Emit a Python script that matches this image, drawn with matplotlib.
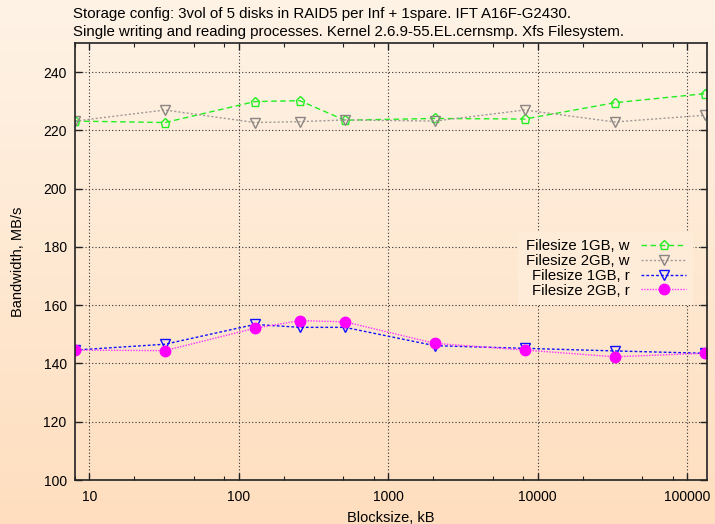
import numpy as np
import matplotlib
matplotlib.use("Agg")
from matplotlib import pyplot as plt
from matplotlib.ticker import LogLocator, NullFormatter, FixedLocator

plt.rcParams['font.family'] = ['Liberation Sans', 'DejaVu Sans']

# block sizes in kB
blocksize = [8, 32, 128, 256, 512, 2048, 8192, 32768, 131072]

w_1gb = [223.2, 222.7, 229.9, 230.2, 223.5, 224.1, 223.9, 229.5, 232.6]
w_2gb = [223.2, 227.0, 222.7, 223.0, 223.6, 223.2, 227.0, 222.9, 225.2]
r_1gb = [144.6, 146.6, 153.4, 152.4, 152.4, 146.1, 145.2, 144.3, 143.5]
r_2gb = [144.6, 144.4, 152.1, 154.7, 154.3, 146.9, 144.6, 142.3, 143.5]

labels = ["Filesize 1GB, w", "Filesize 2GB, w", "Filesize 1GB, r", "Filesize 2GB, r"]

title_lines = ["Storage config: 3vol of 5 disks in RAID5 per Inf + 1spare. IFT A16F-G2430.",
               "Single writing and reading processes. Kernel 2.6.9-55.EL.cernsmp. Xfs Filesystem."]

fig = plt.figure(figsize=(7.15, 5.24), dpi=100)

# gradient background over the whole figure
bg = fig.add_axes([0, 0, 1, 1], zorder=-10)
top_c = np.array([254, 243, 230]) / 255.0
bot_c = np.array([255, 222, 190]) / 255.0
t = np.linspace(0, 1, 256)[:, None]
grad = top_c[None, :] * (1 - t) + bot_c[None, :] * t
bg.imshow(grad[:, None, :], aspect='auto', extent=[0, 1, 0, 1])
bg.axis('off')

ax = fig.add_axes([75/715, 1 - 480/524, 632/715, 437/524])
ax.set_facecolor('none')

ax.plot(blocksize, w_1gb, color='#22ee22', ls=(0, (4, 2.5)), lw=1,
        marker='p', ms=6.5, mfc='none', mec='#22ee22', mew=1, label=labels[0])
ax.plot(blocksize, w_2gb, color='#a09a98', ls=(0, (1.5, 1.5)), lw=1,
        marker='v', ms=6.5, mfc='none', mec='#8a8482', mew=1, label=labels[1])
ax.plot(blocksize, r_1gb, color='#1010ff', ls=(0, (2, 1.5)), lw=1,
        marker='v', ms=6.5, mfc='none', mec='#1010ff', mew=1, label=labels[2])
ax.plot(blocksize, r_2gb, color='#ff33ff', ls=(0, (1, 1)), lw=1,
        marker='o', ms=7.5, mfc='#ff00ff', mec='#ff00ff', label=labels[3])

ax.set_xscale('log')
ax.set_xlim(8, 136000)
ax.set_ylim(100, 250)
ax.set_yticks(range(100, 241, 20))
ax.xaxis.set_major_locator(FixedLocator([10, 100, 1000, 10000, 100000]))
ax.set_xticklabels(['10', '100', '1000', '10000', '100000'])
ax.xaxis.set_minor_locator(LogLocator(base=10, subs=(2, 5, 8)))
ax.xaxis.set_minor_formatter(NullFormatter())

ax.grid(True, which='major', ls=(0, (1, 2)), color='#333333', lw=0.8)
ax.tick_params(which='both', direction='in', top=True, right=True, labelsize=10, color='#222222')
ax.tick_params(which='major', length=5, width=1)
ax.tick_params(which='minor', length=3, width=0.8)
ax.tick_params(axis='x', pad=7)
ax.tick_params(axis='y', pad=6)
for s in ax.spines.values():
    s.set_linewidth(1.2)
    s.set_color('#222222')

ax.set_xlabel("Blocksize, kB", fontsize=10.5, labelpad=5)
ax.set_ylabel("Bandwidth, MB/s", fontsize=10.5, labelpad=13)

leg = ax.legend(loc='center right', bbox_to_anchor=(0.99, 0.484), markerfirst=False,
                fontsize=10.7, frameon=True, facecolor='#feebd8', edgecolor='none',
                framealpha=1, handlelength=3.0, borderpad=0.5, labelspacing=0.05,
                fancybox=False)
for txt in leg.get_texts():
    txt.set_ha('right')

fig.text(73/715, 1 - 18/524, title_lines[0], ha='left', va='baseline', fontsize=10.8)
fig.text(73/715, 1 - 36/524, title_lines[1], ha='left', va='baseline', fontsize=10.8)

fig.savefig("out.png", dpi=100)
